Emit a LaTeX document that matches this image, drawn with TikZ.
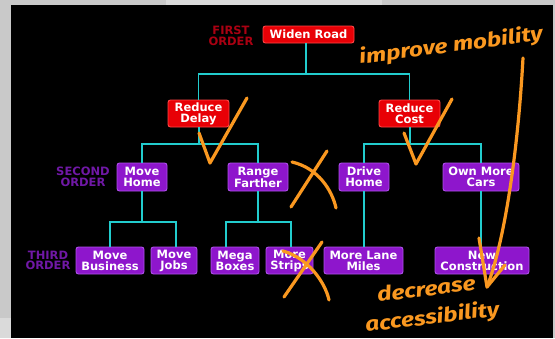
\documentclass[tikz,border=0pt]{standalone}
\usepackage{fontspec}
\setmainfont{DejaVu Sans}
\newfontfamily\notefont[FakeStretch=1.22]{Fira Sans}

\definecolor{pagegray}{RGB}{201,201,201}
\definecolor{pagelight}{RGB}{218,218,218}
\definecolor{boxred}{RGB}{232,0,6}
\definecolor{glowred}{RGB}{255,70,70}
\definecolor{boxpurple}{RGB}{142,22,204}
\definecolor{glowpurple}{RGB}{175,80,235}
\definecolor{labelred}{RGB}{170,0,18}
\definecolor{labelpurple}{RGB}{112,24,166}
\definecolor{linkcyan}{RGB}{34,204,206}
\definecolor{markorange}{RGB}{250,152,32}

\tikzset{
  basebox/.style={rounded corners=2.5pt, inner sep=0pt, align=center, text=white,
    font=\bfseries\fontsize{11.5}{11}\selectfont, line width=0.9pt},
  redbox/.style={basebox, fill=boxred, draw=glowred},
  purplebox/.style={basebox, fill=boxpurple, draw=glowpurple},
  orderlabel/.style={align=center, inner sep=0pt, font=\bfseries\fontsize{11.5}{10.5}\selectfont},
  link/.style={draw=linkcyan, line width=1.7pt},
  pen/.style={draw=markorange, line width=3.2pt, line cap=round, line join=round},
  note/.style={text=markorange, inner sep=0pt, font=\notefont\bfseries\itshape\fontsize{20}{20}\selectfont}
}

\begin{document}
\begin{tikzpicture}[x=1pt,y=-1pt]
\useasboundingbox (0,0) rectangle (555,338);

% surrounding page and the black slide
\fill[pagegray] (0,0) rectangle (555,338);
\fill[pagelight] (166,0) rectangle (382,5);
\fill[pagelight] (0,318) rectangle (11,338);
\fill[black] (11,5) rectangle (553,338);

% first order
\node[redbox, minimum width=91pt, minimum height=17pt] (widen) at (308.5,34.5) {Widen Road};
\node[orderlabel, text=labelred] (first) at (231,36) {FIRST\\ORDER};

\node[redbox, minimum width=61pt, minimum height=27pt] (delay) at (198.5,113.5) {Reduce\\Delay};
\node[redbox, minimum width=61pt, minimum height=27pt] (cost) at (409.5,113.5) {Reduce\\Cost};

% second order
\node[orderlabel, text=labelpurple] (second) at (83,177) {SECOND\\ORDER};
\node[purplebox, minimum width=50pt, minimum height=28pt] (movehome) at (142,177) {Move\\Home};
\node[purplebox, minimum width=60pt, minimum height=28pt] (range) at (258,177) {Range\\Farther};
\node[purplebox, minimum width=50pt, minimum height=28pt] (drivehome) at (364,177) {Drive\\Home};
\node[purplebox, minimum width=76pt, minimum height=28pt] (owncars) at (481,177) {Own More\\Cars};

% third order
\node[orderlabel, text=labelpurple] (third) at (48,260.5) {THIRD\\ORDER};
\node[purplebox, minimum width=68pt, minimum height=27pt] (movebiz) at (110,260.5) {Move\\Business};
\node[purplebox, minimum width=46pt, minimum height=27pt] (movejobs) at (174,260.5) {Move\\Jobs};
\node[purplebox, minimum width=48pt, minimum height=27pt] (mega) at (235,260.5) {Mega\\Boxes};
\node[purplebox, minimum width=47pt, minimum height=27pt] (strips) at (289.5,260.5) {More\\Strips};
\node[purplebox, minimum width=79pt, minimum height=27pt] (lanemiles) at (363.5,260.5) {More Lane\\Miles};
\node[purplebox, minimum width=94pt, minimum height=27pt] (newcon) at (482,260.5) {New\\Construction};

% branching points of the tree
\coordinate (j0) at (306,74);
\coordinate (j1) at (199,144);
\coordinate (j2) at (410,144);
\coordinate (j3) at (142,222);
\coordinate (j4) at (258,222);
\coordinate (megatop) at (226,247);

% tree connectors
\draw[link] (widen.south -| j0) -- (j0);
\draw[link] (delay.north) |- (j0) -| (cost.north);
\draw[link] (delay.south -| j1) -- (j1);
\draw[link] (movehome.north) |- (j1) -| (range.north);
\draw[link] (cost.south -| j2) -- (j2);
\draw[link] (drivehome.north) |- (j2) -| (owncars.north);
\draw[link] (movehome.south) -- (j3);
\draw[link] (movebiz.north) |- (j3) -| ([xshift=2pt]movejobs.north);
\draw[link] (range.south) -- (j4);
\draw[link] (megatop) |- (j4) -| ([xshift=1.5pt]strips.north);
\draw[link] (drivehome.south) -- (lanemiles.north -| drivehome.south);
\draw[link] (owncars.south) -- (newcon.north -| owncars.south);

% hand-drawn marks
\draw[pen] (199,133) -- (210,163) -- (247,98);
\draw[pen] (404,133) -- (416,164) -- (452,99);
\draw[pen] (292,162) .. controls (318,168) and (332,190) .. (336,208);
\draw[pen] (327,151) -- (291,207);
\draw[pen] (283,251) .. controls (308,258) and (325,282) .. (329,300);
\draw[pen] (322,242) -- (284,297);

% hand-written notes and the arrow between them
\node[note, anchor=base west, rotate=7.5] (mobility) at (360,64) {improve mobility};
\node[note, anchor=base west, rotate=7] (decrease) at (378,302) {decrease};
\node[note, anchor=base west, rotate=7] (access) at (366,332) {accessibility};
\coordinate (arrowstart) at (523,58);
\coordinate (arrowtip) at (487,287);
\draw[pen] (arrowstart) .. controls (518,150) and (505,240) .. (arrowtip);
\draw[pen] (479,238) -- (arrowtip) -- (505,265);
\end{tikzpicture}
\end{document}
